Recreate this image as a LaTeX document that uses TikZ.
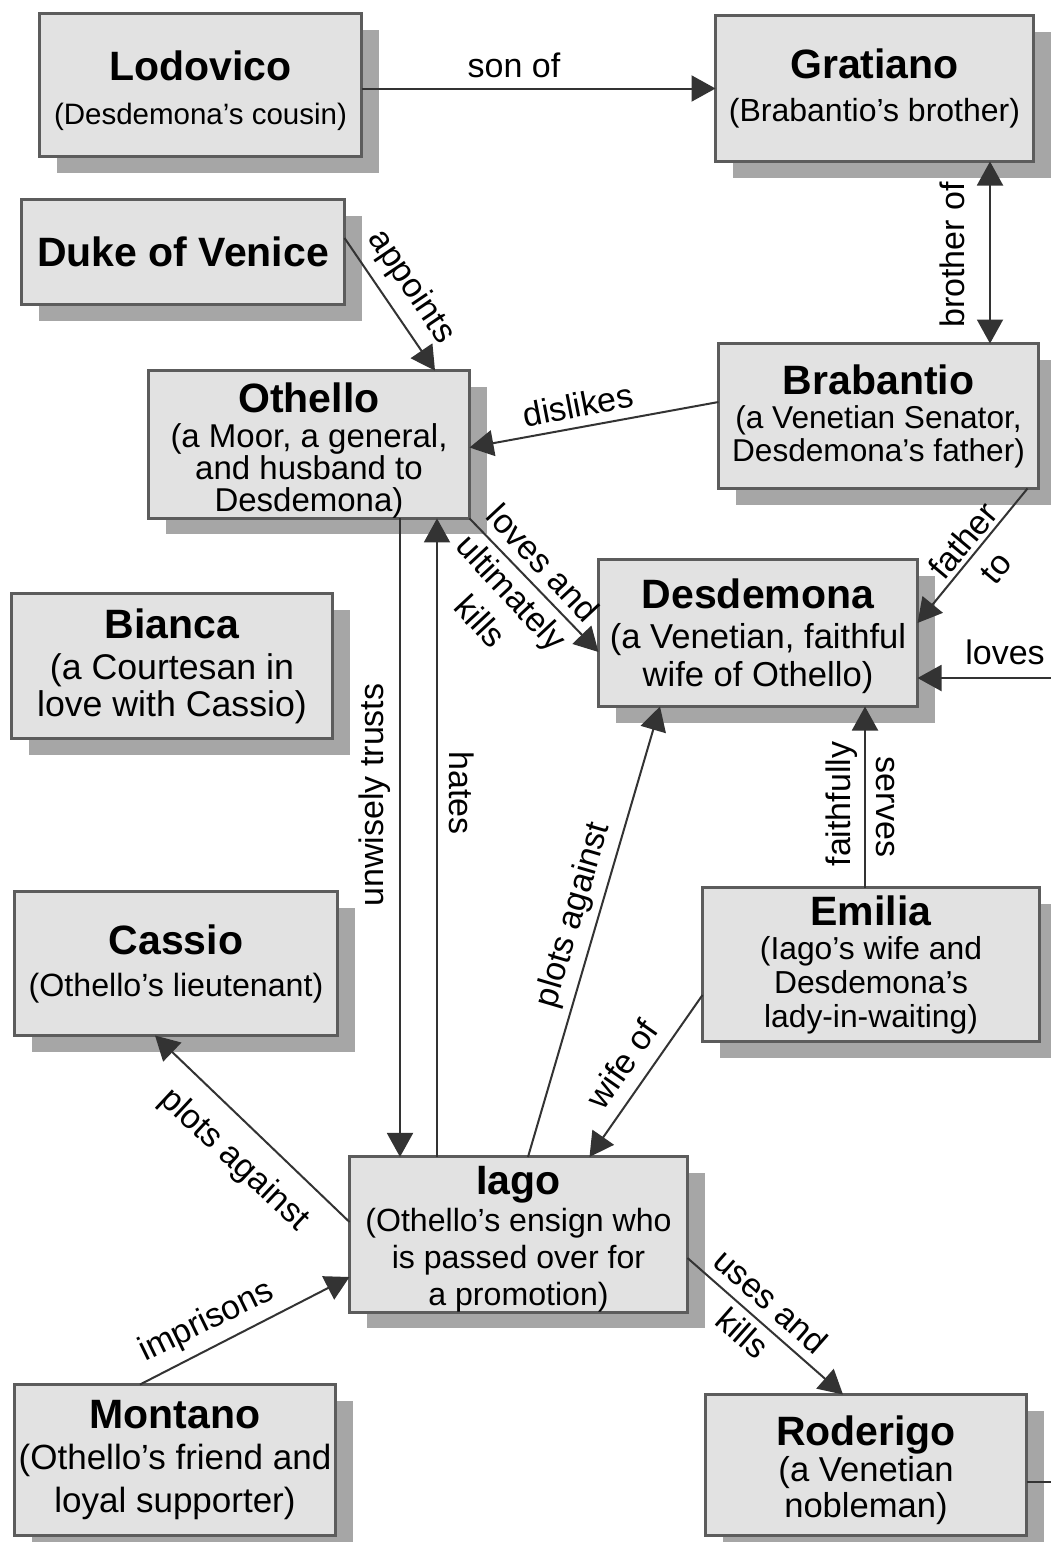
\documentclass[tikz,border=0pt]{standalone}
\usepackage{fontspec}
\setmainfont{Liberation Sans}
\usetikzlibrary{arrows.meta,shadows}
\definecolor{boxfill}{HTML}{E2E2E2}
\definecolor{boxline}{HTML}{5C5C5C}
\definecolor{shadowc}{HTML}{A6A6A6}
\definecolor{linec}{HTML}{333333}
\newcommand{\ttl}[1]{{\fontsize{41}{44}\selectfont\bfseries #1}}
\newcommand{\subf}[2]{\fontsize{#1}{#2}\selectfont}
\newcommand{\tallstrut}[1]{\rule{0pt}{#1}}
\begin{document}
\begin{tikzpicture}[x=1pt,y=-1pt,
  box/.style={draw=boxline, line width=3pt, fill=boxfill, inner sep=0pt, outer sep=0pt, align=center,
    drop shadow={shadow xshift=17pt, shadow yshift=-16pt, fill=shadowc, opacity=1}},
  conn/.style={draw=linec, line width=2pt, -{Triangle[length=24pt,width=26pt]}},
  lbl/.style={font=\fontsize{34}{43}\selectfont, inner sep=0pt, align=center, text=black}]
\fill[white] (0,0) rectangle (1051,1542);
\useasboundingbox (0,0) rectangle (1051,1542);

% boxes
\node[box, minimum width=322pt, minimum height=143pt, font=\subf{29.5}{44}] (lod) at (200.5,85) {\tallstrut{42pt}\ttl{Lodovico}\\(Desdemona's cousin)};
\node[box, minimum width=318pt, minimum height=146pt, font=\subf{32}{43}] (gra) at (874.5,88.5) {\ttl{Gratiano}\\(Brabantio's brother)};
\node[box, minimum width=323pt, minimum height=105pt, font=\subf{32}{40}] (duke) at (183,252) {\ttl{Duke of Venice}};
\node[box, minimum width=321pt, minimum height=142pt, font=\subf{33}{32}] (oth) at (309,444.5) {\tallstrut{42pt}\ttl{Othello}\\[3pt](a Moor, a general,\\and husband to\\Desdemona)};
\node[box, minimum width=320pt, minimum height=145pt, font=\subf{31.6}{33}] (bra) at (878.5,416) {\ttl{Brabantio}\\[1pt](a Venetian Senator,\\Desdemona's father)};
\node[box, minimum width=319pt, minimum height=147pt, font=\subf{34.6}{38}] (des) at (758,633) {\tallstrut{36pt}\ttl{Desdemona}\\[2pt](a Venetian, faithful\\wife of Othello)};
\node[box, minimum width=321pt, minimum height=145pt, font=\subf{35.7}{37}] (bia) at (172,666) {\ttl{Bianca}\\[4pt](a Courtesan in\\love with Cassio)};
\node[box, minimum width=323pt, minimum height=144pt, font=\subf{32.2}{42}] (cas) at (176,963.5) {\ttl{Cassio}\\(Othello's lieutenant)};
\node[box, minimum width=337pt, minimum height=154pt, font=\subf{31.8}{34}] (emi) at (871,964.5) {\ttl{Emilia}\\(Iago's wife and\\Desdemona's\\lady-in-waiting)};
\node[box, minimum width=338pt, minimum height=150pt, font=\subf{32.1}{37}] (iago) at (518.5,1234.5) {\tallstrut{37.5pt}\ttl{Iago}\\(Othello's ensign who\\is passed over for\\a promotion)};
\node[box, minimum width=321pt, minimum height=151pt, font=\subf{35}{43}] (mon) at (175,1460) {\ttl{Montano}\\[-2pt](Othello's friend and\\loyal supporter)};
\node[box, minimum width=321pt, minimum height=141pt, font=\subf{34.6}{36}] (rod) at (866,1465) {\tallstrut{40pt}\ttl{Roderigo}\\(a Venetian\\nobleman)};

% free ends at the picture edge
\coordinate (edgeR) at (1051,678);
\coordinate (edgeR2) at (1051,1482);

% connectors
\draw[conn] (lod.east |- gra.west) -- (gra.west);
\draw[conn, {Triangle[length=24pt,width=26pt]}-{Triangle[length=24pt,width=26pt]}] ([xshift=115.5pt]gra.south) -- ([xshift=111.5pt]bra.north);
\draw[conn] ([yshift=14pt]duke.east) -- ([xshift=126pt]oth.north);
\draw[conn] ([yshift=14pt]bra.west) -- ([yshift=-3pt]oth.east);
\draw[conn] ([xshift=-11pt]bra.south east) -- ([yshift=10pt]des.east);
\draw[conn] (oth.south east) -- ([yshift=-19pt]des.west);
\draw[conn] ([xshift=91pt]oth.south) -- ([xshift=-118.5pt]iago.north);
\draw[conn] ([xshift=-81.5pt]iago.north) -- ([xshift=128pt]oth.south);
\draw[conn] ([xshift=9.5pt]iago.north) -- ([xshift=-98pt]des.south);
\draw[conn] ([xshift=-6pt]emi.north) -- ([xshift=107pt]des.south);
\draw[conn] ([yshift=-30.5pt]emi.west) -- ([xshift=71pt]iago.north);
\draw[conn] ([yshift=12.5pt]iago.west) -- ([xshift=-21pt]cas.south);
\draw[conn] ([xshift=-35pt]mon.north) -- ([yshift=-42.5pt]iago.west);
\draw[conn] ([yshift=-23.5pt]iago.east) -- ([xshift=-23pt]rod.north);
\draw[conn] (edgeR) -- ([yshift=-45pt]des.east);
\draw[draw=linec, line width=2pt] ([yshift=-17pt]rod.east) -- (edgeR2);

% connector labels
\node[lbl] (l-son) at (514,65) {son of};
\node[lbl, rotate=90] (l-bro) at (952,255) {brother of};
\node[lbl, rotate=-56] (l-app) at (411,287) {appoints};
\node[lbl, rotate=11] (l-dis) at (578,405) {dislikes};
\node[lbl, rotate=50, font=\fontsize{34}{42}\selectfont] (l-fat) at (979,554) {father\\to};
\node[lbl, rotate=-47] (l-lov) at (512,592) {loves and\\ultimately\\kills};
\node[lbl, rotate=90] (l-unw) at (375,795) {unwisely trusts};
\node[lbl, rotate=-90] (l-hat) at (462,793) {hates};
\node[lbl, rotate=73.6] (l-pd) at (574,915) {plots against};
\node[lbl, rotate=90] (l-fai) at (842,804) {faithfully};
\node[lbl, rotate=-90] (l-ser) at (885,807) {serves};
\node[lbl] (l-lvs) at (1005,652) {loves};
\node[lbl, rotate=55] (l-wif) at (622,1064) {wife of};
\node[lbl, rotate=-43] (l-pc) at (234,1160) {plots against};
\node[lbl, rotate=26] (l-imp) at (207,1322) {imprisons};
\node[lbl, rotate=-41.4] (l-use) at (757,1317) {uses and\\kills};
\end{tikzpicture}
\end{document}
